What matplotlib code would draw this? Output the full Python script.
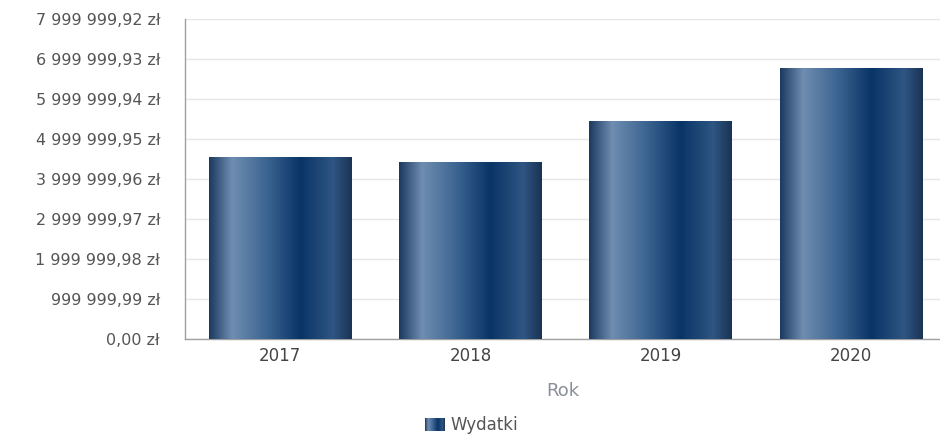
import matplotlib
matplotlib.use("Agg")
import matplotlib.pyplot as plt
import numpy as np
from matplotlib.patches import Rectangle
from matplotlib.colors import LinearSegmentedColormap

years = ["2017", "2018", "2019", "2020"]
values = [4550000, 4420000, 5450000, 6780000]
tick_values = [0.00, 999999.99, 1999999.98, 2999999.97, 3999999.96,
               4999999.95, 5999999.94, 6999999.93, 7999999.92]
series_name = "Wydatki"
x_label = "Rok"

plt.rcParams['font.family'] = ['DejaVu Sans']

grad = LinearSegmentedColormap.from_list("bar", [
    (0.00, "#1c3a60"),
    (0.16, "#6f8db0"),
    (0.40, "#3d6592"),
    (0.64, "#083466"),
    (0.87, "#2f5583"),
    (1.00, "#1a3355"),
])

fig = plt.figure(figsize=(9.4, 4.36), dpi=100)
ax = fig.add_axes([185/940, 1-339/436, 1-185/940, (339-19)/436])

def fmt(v):
    s = f"{v:,.2f}"
    ip, dp = s.split(".")
    return ip.replace(",", " ") + "," + dp + " zł"

width = 0.75
xs = np.arange(len(years))
gimg = np.linspace(0, 1, 256).reshape(1, -1)
for x, v in zip(xs, values):
    rect = Rectangle((x - width/2, 0), width, v, facecolor="none", edgecolor="none")
    ax.add_patch(rect)
    im = ax.imshow(gimg, cmap=grad, aspect="auto",
                   extent=(x - width/2, x + width/2, 0, v), zorder=3)
    im.set_clip_path(rect)

ax.set_xlim(-0.5, 3.467)
ax.set_ylim(0, tick_values[-1])
ax.set_yticks(tick_values)
ax.set_yticklabels([fmt(v) for v in tick_values])
ax.set_xticks(xs)
ax.set_xticklabels(years)
ax.grid(axis="y", color="#e6e6e6", linewidth=1, zorder=0)
ax.set_axisbelow(True)
for s in ["top", "right"]:
    ax.spines[s].set_visible(False)
for s in ["left", "bottom"]:
    ax.spines[s].set_color("#a0a0a0")
    ax.spines[s].set_linewidth(1)
ax.tick_params(axis="y", length=0, pad=18, labelsize=11.5, labelcolor="#555555")
ax.tick_params(axis="x", length=0, pad=6, labelsize=12, labelcolor="#444444")
ax.set_xlabel(x_label, fontsize=13, color="#8a8f99", labelpad=12)

# legend
lax = fig.add_axes([425/940, 1-431/436, 20/940, 13/436])
lax.imshow(gimg, cmap=grad, aspect="auto")
lax.axis("off")
fig.text(450/940, 1-425/436, series_name, fontsize=12, color="#555555", va="center", ha="left")

fig.savefig("out.png", dpi=100)
